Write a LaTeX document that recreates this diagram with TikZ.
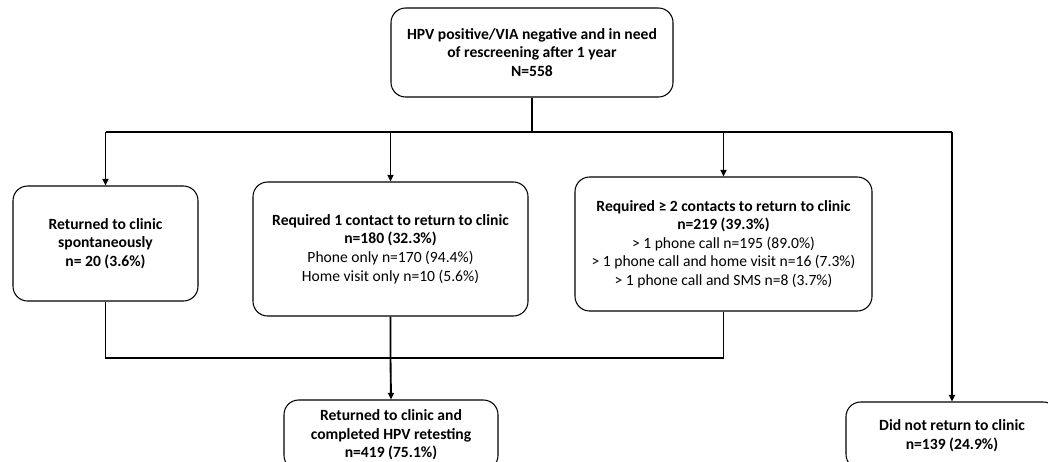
\documentclass[tikz,border=0pt]{standalone}
\usepackage{fontspec}
\setmainfont{Carlito}
\usetikzlibrary{
    positioning,      % For placing nodes relative to each other
    arrows.meta       % For modern arrow tips
}

\begin{document}
\begin{tikzpicture}[
    % Global style settings: one unit is one pixel of the reference
    x=0.75pt, y=-0.75pt,
    % Style for the rounded boxes
    box_style/.style={
        draw,
        rounded corners=11pt,
        line width=0.8pt,
        align=center,
        inner sep=2pt,
        font=\fontsize{11.7}{13.9}\selectfont
    },
    % Style for the connecting lines
    line_style/.style={
        line width=1.4pt
    },
    % Style for arrowheads
    arrow_tip/.style={
        -{Triangle[length=5pt, width=4.5pt]}
    }
]
    % 0. Fix the frame to the reference size
    \useasboundingbox (0,0) rectangle (1048,461);
    \clip (0,0) rectangle (1048,461);

    % 1. Define the boxes of the flow chart.
    \node[box_style, minimum width=211.5pt, minimum height=66.75pt] (screen_box) at (532,52.5)
        {\textbf{HPV positive/VIA negative and in need}\\\textbf{of rescreening after 1 year}\\\textbf{N=558}};
    \node[box_style, minimum width=138.75pt, minimum height=86.25pt] (spont_box) at (105.5,243.5)
        {\textbf{Returned to clinic}\\\textbf{spontaneously}\\\textbf{n= 20 (3.6\%)}};
    \node[box_style, minimum width=206.25pt, minimum height=100.5pt] (one_contact_box) at (390.5,249)
        {\textbf{Required 1 contact to return to clinic}\\\textbf{n=180 (32.3\%)}\\Phone only n=170 (94.4\%)\\Home visit only n=10 (5.6\%)};
    \node[box_style, minimum width=222.75pt, minimum height=100.5pt] (more_contact_box) at (723.5,244)
        {\textbf{Required ≥ 2 contacts to return to clinic}\\\textbf{n=219 (39.3\%)}\\> 1 phone call n=195 (89.0\%)\\> 1 phone call and home visit n=16 (7.3\%)\\> 1 phone call and SMS n=8 (3.7\%)};
    \node[box_style, minimum width=160.5pt, minimum height=52.5pt] (retest_box) at (391,435)
        {\textbf{Returned to clinic and}\\\textbf{completed HPV retesting}\\\textbf{n=419 (75.1\%)}};
    \node[box_style, minimum width=159pt, minimum height=50.25pt] (no_return_box) at (952,435.5)
        {\textbf{Did not return to clinic}\\\textbf{n=139 (24.9\%)}};

    % 2. Junction points of the split and merge lines.
    \coordinate (split_mid) at (screen_box.south |- 0,132);
    \coordinate (split_left) at (spont_box.north |- 0,132);
    \coordinate (split_right) at (no_return_box.north |- 0,132);
    \coordinate (merge_left) at (spont_box.south |- 0,358);
    \coordinate (merge_mid) at (one_contact_box.south |- 0,358);
    \coordinate (merge_right) at (more_contact_box.south |- 0,358);

    % 3. Draw the split from the top box.
    \draw[line_style] (screen_box.south) -- (split_mid);
    \draw[line_style] (split_left) -- (split_right);
    \draw[line_style, arrow_tip] (split_left) -- (spont_box.north);
    \draw[line_style, arrow_tip] (one_contact_box.north |- split_mid) -- (one_contact_box.north);
    \draw[line_style, arrow_tip] (more_contact_box.north |- split_mid) -- (more_contact_box.north);
    \draw[line_style, arrow_tip] (split_right) -- (no_return_box.north);

    % 4. Draw the merge into the retesting box.
    \draw[line_style] (spont_box.south) -- (merge_left) -- (merge_right) -- (more_contact_box.south);
    \draw[line_style, arrow_tip] (one_contact_box.south) -- (merge_mid) -- (retest_box.north);

\end{tikzpicture}
\end{document}
